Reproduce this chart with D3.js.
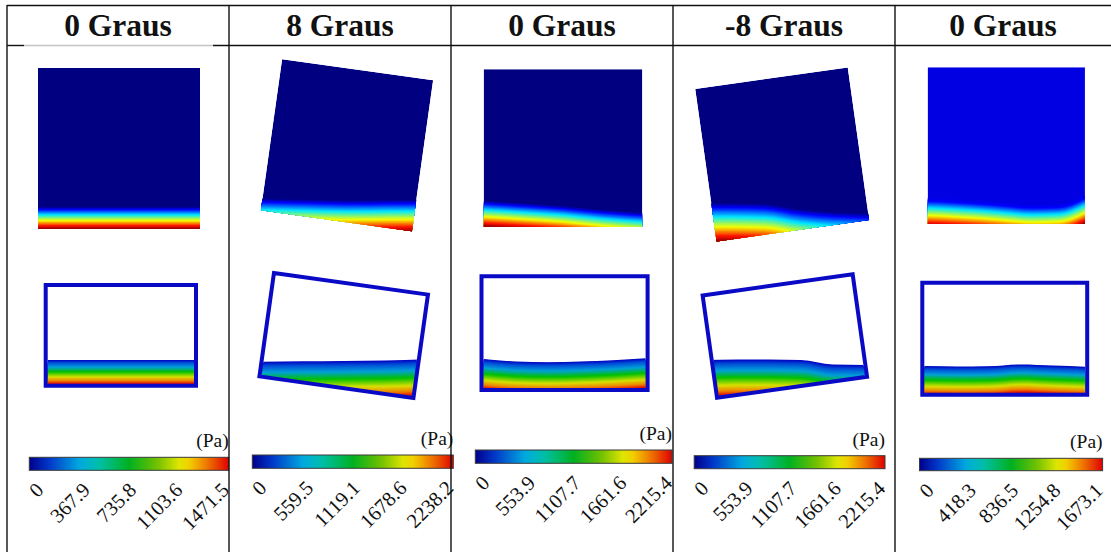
<!DOCTYPE html>
<html><head><meta charset="utf-8">
<script src="https://cdn.jsdelivr.net/npm/d3@7"></script>
<style>body{margin:0;background:#fff}svg{display:block}</style>
</head><body>
<svg id="c" width="1111" height="552"></svg>
<script>
// ---------------- data ----------------
const titles = ["0 Graus", "8 Graus", "0 Graus", "-8 Graus", "0 Graus"];
const tiltAngles = [0, 8, 0, -8, 0];
const pressureMax = [1471.5, 2238.2, 2215.4, 2215.4, 1673.1];
const tickLabels = [
  ["0", "367.9", "735.8", "1103.6", "1471.5"],
  ["0", "559.5", "1119.1", "1678.6", "2238.2"],
  ["0", "553.9", "1107.7", "1661.6", "2215.4"],
  ["0", "553.9", "1107.7", "1661.6", "2215.4"],
  ["0", "418.3", "836.5", "1254.8", "1673.1"]
];
const unitLabel = "(Pa)";
// fluid surface height (fraction of container height), sampled evenly across the container
const pressureFieldLevels = [
  [0.137, 0.137, 0.137],
  [0.152, 0.146, 0.140, 0.142, 0.144],
  [0.165, 0.150, 0.133, 0.108, 0.090],
  [0.185, 0.185, 0.180, 0.146, 0.127, 0.118],
  [0.168, 0.160, 0.150, 0.136, 0.124, 0.128, 0.185]
];
const tankLevels = [
  [0.255, 0.255, 0.255],
  [0.248, 0.253, 0.256, 0.261, 0.272],
  [0.273, 0.251, 0.245, 0.251, 0.262, 0.279],
  [0.269, 0.274, 0.274, 0.269, 0.225, 0.220],
  [0.256, 0.252, 0.254, 0.270, 0.260, 0.250]
];

// ---------------- layout ----------------
const colEdges = [7, 229, 451, 673, 895, 1111];
const squares = [
  {cx: 119, cy: 148.5, w: 162, h: 161},
  {cx: 347, cy: 145.25, w: 152.5, h: 152.5},
  {cx: 563, cy: 148, w: 158.6, h: 157.4},
  {cx: 782.2, cy: 154.5, w: 154, h: 154},
  {cx: 1006.3, cy: 145.7, w: 157.3, h: 156.7}
];
const tanks = [
  {cx: 120.85, cy: 335.35, w: 150.3, h: 100.7},
  {cx: 343.7, cy: 335.5, w: 155.5, h: 104.4},
  {cx: 564.55, cy: 333.15, w: 166.1, h: 113.7},
  {cx: 784.85, cy: 336.1, w: 151.5, h: 103.4},
  {cx: 1004.75, cy: 338.7, w: 164.9, h: 112}
];
const bars = [
  {x0: 29.3, x1: 228.7, y0: 457.3, y1: 470.3},
  {x0: 252.3, x1: 453.3, y0: 455, y1: 468.3},
  {x0: 475.3, x1: 671.9, y0: 450, y1: 463.3},
  {x0: 694.2, x1: 885, y0: 455.7, y1: 468.7},
  {x0: 919.5, x1: 1102.6, y0: 458.3, y1: 470.7}
];
const squareBg = ["#000080", "#000080", "#000080", "#000080", "#0000e2"];
const tankStroke = "#0a0ac6";

const jet = lo => d3.scaleLinear()
  .domain([0, 0.12, 0.36, 0.62, 0.86, 1])
  .range([lo, "#0000ff", "#00e8ff", "#f4ff00", "#ff1000", "#8a0000"])
  .interpolate(d3.interpolateRgb).clamp(true);
const tankMap = d3.scaleLinear()
  .domain([0, 0.12, 0.3, 0.5, 0.72, 0.88, 1])
  .range(["#0000c0", "#0050d8", "#00a0d8", "#00c000", "#d8e000", "#f08000", "#e00000"])
  .clamp(true);
const barMap = d3.scaleLinear()
  .domain([0, 0.1, 0.26, 0.36, 0.5, 0.64, 0.77, 0.88, 1])
  .range(["#00008c", "#0038c8", "#00aee0", "#00c0a0", "#00b020", "#70c000", "#f2ec00", "#f08400", "#e00000"]);

const serif = "'Liberation Serif', 'Times New Roman', serif";
const svg = d3.select("#c");
const defs = svg.append("defs");

function rotCorners(b, a, inset) {
  const r = a * Math.PI / 180, c = Math.cos(r), s = Math.sin(r);
  const hw = (b.w - inset) / 2, hh = (b.h - inset) / 2;
  return [[-hw, -hh], [hw, -hh], [hw, hh], [-hw, hh]]
    .map(([x, y]) => [b.cx + x * c - y * s, b.cy + x * s + y * c]);
}
function maxYAt(poly, x) {
  let m = -Infinity;
  for (let i = 0; i < poly.length; i++) {
    const [x1, y1] = poly[i], [x2, y2] = poly[(i + 1) % poly.length];
    if (x1 !== x2 && (x - x1) * (x - x2) <= 0) {
      m = Math.max(m, y1 + (y2 - y1) * (x - x1) / (x2 - x1));
    }
  }
  return m;
}

function drawFluid(id, box, angle, levels, cmap, bg, inset, nb) {
  const poly = rotCorners(box, angle, inset);
  const xmin = d3.min(poly, d => d[0]), xmax = d3.max(poly, d => d[0]);
  const xS = d3.scaleLinear().domain([0, levels.length - 1]).range([xmin, xmax]);
  const yS = d3.scaleLinear().domain([0, 1]).range([box.cy + box.h / 2, box.cy - box.h / 2]);
  const surf = d3.scaleLinear().domain(levels.map((d, i) => xS(i))).range(levels.map(d => yS(d)));
  let D = 0;
  for (let x = xmin + 0.5; x <= xmax - 0.5; x += 0.5) D = Math.max(D, maxYAt(poly, x) - surf(x));
  defs.append("clipPath").attr("id", id).append("polygon").attr("points", poly.map(p => p.join(",")).join(" "));
  const g = svg.append("g").attr("clip-path", `url(#${id})`);
  g.append("polygon").attr("points", poly.map(p => p.join(",")).join(" ")).attr("fill", bg);
  const bottom = d3.max(poly, d => d[1]) + 5;
  const pts = levels.map((d, i) => ({x: xS(i), y: yS(d)}));
  for (let k = 0; k < nb; k++) {
    const t = k / nb;
    const area = d3.area().x(d => d.x).y0(bottom).y1(d => d.y + t * D).curve(d3.curveMonotoneX);
    g.append("path").attr("d", area(pts)).attr("fill", cmap((k + 0.5) / nb));
  }
  return poly;
}

// ---------- row 1: pressure fields ----------
squares.forEach((b, i) => {
  drawFluid("sq" + i, b, tiltAngles[i], pressureFieldLevels[i], jet(squareBg[i]), squareBg[i], 0, 48);
});

// ---------- row 2: tanks ----------
tanks.forEach((b, i) => {
  drawFluid("tk" + i, b, tiltAngles[i], tankLevels[i], tankMap, "#ffffff", 4, 48);
  const poly = rotCorners(b, tiltAngles[i], 0);
  svg.append("polygon").attr("points", poly.map(p => p.join(",")).join(" "))
    .attr("fill", "none").attr("stroke", tankStroke).attr("stroke-width", 4)
    .attr("stroke-linejoin", "miter");
});

// ---------- row 3: colour bars ----------
const grad = defs.append("linearGradient").attr("id", "cbar").attr("x1", 0).attr("x2", 1).attr("y1", 0).attr("y2", 0);
d3.range(0, 1.0001, 0.05).forEach(t => grad.append("stop").attr("offset", t).attr("stop-color", barMap(t)));

bars.forEach((b, i) => {
  svg.append("rect").attr("x", b.x0).attr("y", b.y0).attr("width", b.x1 - b.x0).attr("height", b.y1 - b.y0)
    .attr("fill", "url(#cbar)").attr("stroke", "#3a3a3a").attr("stroke-width", 1);
  svg.append("text").attr("x", b.x1).attr("y", b.y0 - 10).attr("text-anchor", "end")
    .style("font-family", serif).style("font-size", "19.5px").attr("fill", "#111").text(unitLabel);
  const vals = tickLabels[i].map(Number);
  const sc = d3.scaleLinear().domain([0, pressureMax[i]]).range([b.x0 + 15, b.x1 + 1]);
  const ax = d3.axisBottom(sc).tickValues(vals).tickSize(0)
    .tickFormat(d => tickLabels[i][vals.indexOf(d)]);
  const ag = svg.append("g").attr("transform", `translate(0,${b.y1 + 21})`).call(ax);
  ag.select(".domain").remove();
  ag.selectAll("text").attr("x", 0).attr("y", 0).attr("dy", 0)
    .attr("text-anchor", "end").attr("transform", "rotate(-45)")
    .attr("fill", "#111").style("font-family", serif).style("font-size", "20.5px");
});

// ---------- table grid & headers ----------
const grid = svg.append("g").attr("stroke", "#111").attr("stroke-width", 1.4);
grid.append("line").attr("x1", colEdges[0]).attr("x2", 1111).attr("y1", 5.5).attr("y2", 5.5);
grid.append("line").attr("x1", colEdges[0]).attr("x2", 24).attr("y1", 45.5).attr("y2", 45.5);
grid.append("line").attr("x1", 24).attr("x2", 213).attr("y1", 45.5).attr("y2", 45.5).attr("stroke", "#c4c4c4");
grid.append("line").attr("x1", 213).attr("x2", 1111).attr("y1", 45.5).attr("y2", 45.5);
colEdges.slice(0, 5).forEach(x => {
  grid.append("line").attr("x1", x).attr("x2", x).attr("y1", 5).attr("y2", 552);
});
titles.forEach((t, i) => {
  svg.append("text").attr("x", (colEdges[i] + colEdges[i + 1]) / 2).attr("y", 35.5)
    .attr("text-anchor", "middle").style("font-family", serif).style("font-weight", "bold")
    .style("font-size", "31.5px").attr("fill", "#111").text(t);
});
</script>
</body></html>
